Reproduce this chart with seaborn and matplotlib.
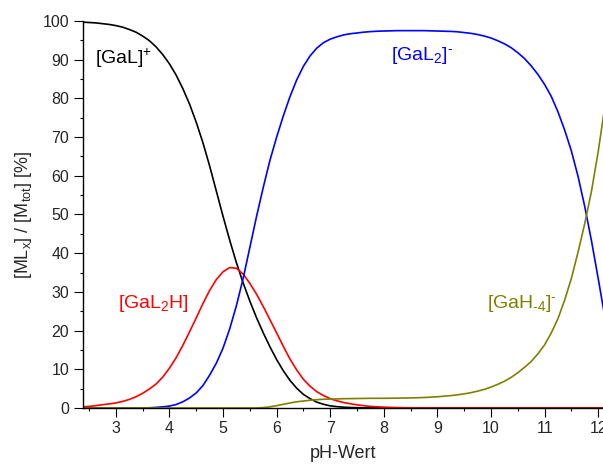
import pandas as pd
import seaborn as sns
from matplotlib import pyplot as plt
from matplotlib.ticker import MultipleLocator

# species distribution, pH grid in 0.125 steps
ph = [2.25 + 0.125 * i for i in range(81)]

gal = [99.8, 99.7, 99.6, 99.5, 99.3, 99.1, 98.8, 98.4, 97.8, 97.1, 96.1, 94.9, 93.3, 91.3,
       88.9, 86.0, 82.5, 78.5, 73.8, 68.5, 62.5, 56.0, 49.5, 43.3, 37.5, 32.3, 27.6, 23.3,
       19.4, 15.8, 12.5, 9.6, 7.1, 5.1, 3.5, 2.4, 1.5, 0.95, 0.55, 0.35, 0.2, 0.12, 0.07,
       0.04, 0.02, 0.01, 0] + [0] * 34

gal2h = [0.2, 0.3, 0.4, 0.6, 0.85, 1.05, 1.3, 1.7, 2.2, 2.9, 3.8, 4.9, 6.2, 8.0,
         10.3, 13.0, 16.2, 19.7, 23.3, 27.0, 30.4, 33.2, 35.2, 36.3, 36.1, 34.6, 32.2, 29.4,
         26.2, 22.8, 19.4, 15.9, 12.6, 9.8, 7.4, 5.6, 4.2, 3.2, 2.4, 1.85, 1.4, 1.1, 0.8,
         0.6, 0.4, 0.3, 0.22, 0.15, 0.1, 0.07, 0.05, 0.02, 0] + [0] * 28

gal2 = [0] * 11 + [0.05, 0.15, 0.3, 0.5, 0.9, 1.6, 2.6, 3.9, 5.8, 8.5, 11.6, 15.5,
        20.5, 26.5, 33.5, 41.5, 49.5, 57.0, 64.0, 70.0, 75.5, 80.5, 84.8, 88.3, 91.0,
        93.0, 94.4, 95.3, 95.9, 96.4, 96.7, 96.9, 97.1, 97.25, 97.35, 97.4, 97.45, 97.5,
        97.5, 97.5, 97.5, 97.5, 97.45, 97.4, 97.35, 97.3, 97.2, 97.0, 96.8, 96.5, 96.1,
        95.6, 94.9, 94.1, 93.1, 91.8, 90.3, 88.4, 86.2, 83.6, 80.5, 76.5, 71.8, 66.4,
        59.8, 52.0, 43.2, 33.5, 23.5, 14.5]

gah4 = [0] * 28 + [0.1, 0.3, 0.6, 0.95, 1.3, 1.6, 1.8, 2.0, 2.15, 2.25, 2.3, 2.35, 2.4,
        2.42, 2.45, 2.47, 2.5, 2.5, 2.5, 2.52, 2.55, 2.57, 2.6, 2.65, 2.7, 2.8, 2.9, 3.05,
        3.2, 3.4, 3.65, 3.95, 4.35, 4.8, 5.4, 6.1, 6.9, 7.9, 9.1, 10.5, 12.0, 14.0, 16.3,
        19.4, 23.1, 27.9, 33.5, 40.3, 47.7, 56.0, 66.2, 78.0, 90.0]

species = ["GaL", "GaL2H", "GaL2", "GaH-4"]
colors = {"GaL": "black", "GaL2H": "#ff0000", "GaL2": "#0000ff", "GaH-4": "#808000"}

df = pd.DataFrame({"pH": ph * 4,
                   "percent": gal + gal2h + gal2 + gah4,
                   "species": sum([[s] * len(ph) for s in species], [])})

sns.set_style("ticks")
plt.rcParams["font.family"] = ["Liberation Sans", "DejaVu Sans"]
plt.rcParams["mathtext.fontset"] = "custom"
plt.rcParams["mathtext.rm"] = "Liberation Sans"
plt.rcParams["mathtext.it"] = "Liberation Sans:italic"

fig = plt.figure(figsize=(6.03, 4.71), dpi=100)
ax = fig.add_axes([0.1371, 0.1338, 0.8629, 0.8217])

sns.lineplot(data=df, x="pH", y="percent", hue="species", palette=colors,
             linewidth=1.2, legend=False, ax=ax)

ax.set_xlim(2.38, 12.09)
ax.set_ylim(0, 100)
ax.xaxis.set_major_locator(MultipleLocator(1))
ax.xaxis.set_minor_locator(MultipleLocator(0.5))
ax.yaxis.set_major_locator(MultipleLocator(10))
ax.yaxis.set_minor_locator(MultipleLocator(5))
ax.tick_params(which="major", length=6.2, width=0.8, labelsize=11.5, color="black")
ax.tick_params(which="minor", length=2.4, width=0.8, color="black")
sns.despine(ax=ax, top=True, right=True)
for s in ["left", "bottom"]:
    ax.spines[s].set_linewidth(1.0)
    ax.spines[s].set_color("black")

ax.set_xlabel("pH-Wert", fontsize=13, labelpad=6)
ax.set_ylabel("[ML$_\\mathrm{x}$] / [M$_\\mathrm{tot}$] [%]", fontsize=13, labelpad=6)

ax.text(2.61, 90.4, "[GaL]$^\\mathrm{+}$", color="black", fontsize=14, va="center")
ax.text(3.04, 27.1, "[GaL$_\\mathrm{2}$H]", color="#ff0000", fontsize=14, va="center")
ax.text(8.13, 91.2, "[GaL$_\\mathrm{2}$]$^\\mathrm{\u2010}$", color="#0000ff", fontsize=14, va="center")
ax.text(9.93, 27.0, "[GaH$_\\mathrm{\u20104}$]$^\\mathrm{\u2010}$", color="#808000", fontsize=14, va="center")

fig.savefig("out.png", dpi=100)
